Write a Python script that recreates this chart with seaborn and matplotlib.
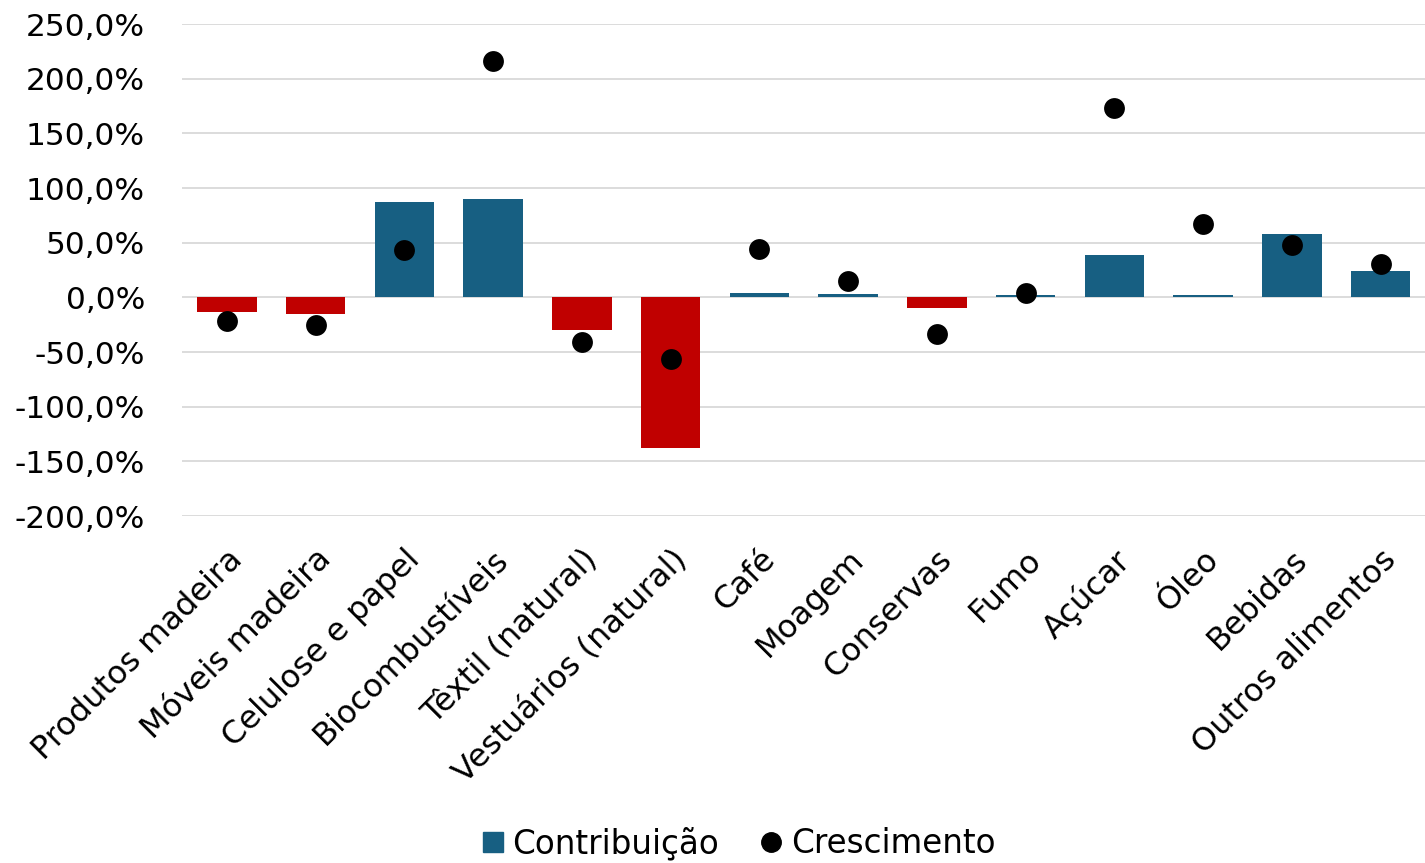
import numpy as np
import pandas as pd
import matplotlib
matplotlib.use('Agg')
import matplotlib.pyplot as plt
import seaborn as sns
from matplotlib.ticker import FuncFormatter
from matplotlib.lines import Line2D

categorias = ['Produtos madeira', 'Móveis madeira', 'Celulose e papel', 'Biocombustíveis',
              'Têxtil (natural)', 'Vestuários (natural)', 'Café', 'Moagem', 'Conservas',
              'Fumo', 'Açúcar', 'Óleo', 'Bebidas', 'Outros alimentos']
contribuicao = [-13.5, -15.0, 87.0, 90.0, -30.0, -138.0, 4.0, 3.4, -10.0, 2.0, 38.5, 2.5, 58.0, 24.0]
crescimento = [-21.5, -24.8, 43.0, 216.5, -40.8, -56.0, 44.0, 15.0, -33.0, 4.0, 173.0, 67.0, 48.0, 30.5]

AZUL = '#175F82'
VERMELHO = '#C00000'


def fmt_pct(v, pos):
    return f'{v:.1f}%'.replace('.', ',')


sns.set_style('white')
plt.rcParams['font.family'] = ['DejaVu Sans']
plt.rcParams['text.color'] = 'black'
plt.rcParams['xtick.color'] = 'black'
plt.rcParams['ytick.color'] = 'black'

df = pd.DataFrame({'categoria': categorias,
                   'contribuicao': contribuicao,
                   'crescimento': crescimento})
cores = [AZUL if v >= 0 else VERMELHO for v in df['contribuicao']]

fig = plt.figure(figsize=(14.25, 8.63), dpi=100)
ax = fig.add_axes([0.128, 0.402, 0.872, 0.570])

sns.barplot(data=df, x='categoria', y='contribuicao', hue='categoria',
            palette=cores, legend=False, width=0.67, saturation=1,
            linewidth=0, ax=ax, zorder=2)
sns.stripplot(data=df, x='categoria', y='crescimento', jitter=False,
              color='black', size=15, linewidth=0, ax=ax, zorder=3)

ax.set_ylim(-200, 250)
ax.set_xlim(-0.5, 13.5)
ax.set_yticks(np.arange(-200, 251, 50))
ax.yaxis.set_major_formatter(FuncFormatter(fmt_pct))
ax.yaxis.grid(True, color='#D9D9D9', linewidth=1.3, zorder=0)
ax.set_axisbelow(True)
for s in ax.spines.values():
    s.set_visible(False)
ax.set_xlabel('')
ax.set_ylabel('')
ax.tick_params(axis='y', labelsize=22.5, length=0, pad=27)
ax.tick_params(axis='x', labelsize=23, length=0, pad=20)
plt.setp(ax.get_xticklabels(), rotation=45, ha='right', rotation_mode='anchor')

handles = [Line2D([], [], marker='s', linestyle='', color=AZUL, markersize=14),
           Line2D([], [], marker='o', linestyle='', color='black', markersize=14)]
fig.legend(handles, ['Contribuição', 'Crescimento'], loc='lower center',
           bbox_to_anchor=(0.5175, -0.031), ncol=2, frameon=False, fontsize=23.5,
           handlelength=0.8, handletextpad=0.2, columnspacing=1.2)

fig.savefig('out.png', dpi=100)
